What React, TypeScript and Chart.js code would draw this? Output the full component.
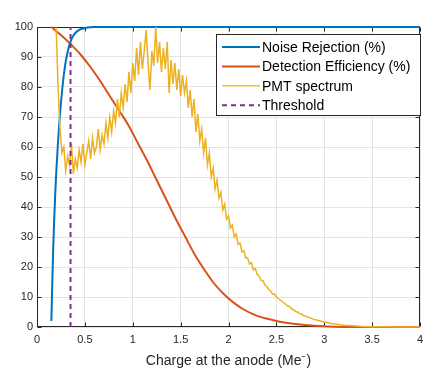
import React, { useEffect, useRef } from "react";
import { Chart, registerables } from "chart.js";
Chart.register(...registerables);

const xTickValues = [0, 0.5, 1, 1.5, 2, 2.5, 3, 3.5, 4];
const yTickValues = [0, 10, 20, 30, 40, 50, 60, 70, 80, 90, 100];
const seriesNames = ["Noise Rejection (%)", "Detection Efficiency (%)", "PMT spectrum", "Threshold"];
const xAxisTitle = "Charge at the anode (Me\u207B)";

const noiseCharge = [0.15, 0.16, 0.17, 0.18, 0.19, 0.2, 0.22, 0.24, 0.26, 0.28, 0.3, 0.33, 0.36, 0.4, 0.45, 0.5, 0.6, 1, 2, 3, 4];
const noiseRejection = [2, 15, 27, 36, 44, 51, 62, 71, 78, 84, 88.5, 93, 96, 98, 99.2, 99.7, 100, 100, 100, 100, 100];

const effCharge = [0.15, 0.25, 0.35, 0.45, 0.55, 0.65, 0.75, 0.85, 0.95, 1.05, 1.15, 1.25, 1.35, 1.45, 1.55, 1.65, 1.75, 1.85, 1.95, 2.05, 2.15, 2.25, 2.35, 2.45, 2.55, 2.7, 2.9, 3.1, 3.5, 4];
const detectionEfficiency = [100, 97.3, 94.3, 91, 87, 82.5, 77.5, 72.5, 67.5, 61.5, 55.5, 49, 42.5, 36, 30, 24, 19, 14.5, 11, 8.2, 6, 4.4, 3.2, 2.4, 1.7, 1.0, 0.4, 0.1, 0, 0];

const pmtCharge = [
  0.2, 0.22, 0.24, 0.26, 0.28, 0.3, 0.32, 0.34, 0.36, 0.38, 0.4, 0.42, 0.44, 0.46, 0.48,
  0.5, 0.52, 0.54, 0.56, 0.58, 0.6, 0.62, 0.64, 0.66, 0.68, 0.7, 0.72, 0.74, 0.76, 0.78,
  0.8, 0.82, 0.84, 0.86, 0.88, 0.9, 0.92, 0.94, 0.96, 0.98, 1.0, 1.02, 1.04, 1.06, 1.08,
  1.1, 1.12, 1.14, 1.16, 1.18, 1.2, 1.22, 1.24, 1.26, 1.28, 1.3, 1.32, 1.34, 1.36, 1.38,
  1.4, 1.42, 1.44, 1.46, 1.48, 1.5, 1.52, 1.54, 1.56, 1.58, 1.6, 1.62, 1.64, 1.66, 1.68,
  1.7, 1.72, 1.74, 1.76, 1.78, 1.8, 1.82, 1.84, 1.86, 1.88, 1.9, 1.92, 1.94, 1.96, 1.98,
  2.0, 2.02, 2.04, 2.06, 2.08, 2.1, 2.12, 2.14, 2.16, 2.18, 2.2, 2.22, 2.24, 2.26, 2.28,
  2.3, 2.32, 2.34, 2.36, 2.38, 2.4, 2.42, 2.44, 2.46, 2.48, 2.5, 2.52, 2.54, 2.56, 2.58,
  2.6, 2.62, 2.64, 2.66, 2.68, 2.7, 2.72, 2.74, 2.76, 2.78, 2.8, 2.84, 2.88, 2.92, 2.96,
  3.0, 3.05, 3.1, 3.15, 3.2, 3.3, 3.4, 3.5, 3.6, 3.8, 4.0,
];
const pmtCounts = [
  100, 80, 66, 58, 60, 52, 57, 54, 61, 51, 56, 53, 59, 55, 61,
  54, 58, 62, 56, 63, 58, 60, 66, 59, 64, 61, 68, 63, 70, 65,
  72, 68, 76, 70, 78, 73, 81, 75, 85, 78, 88, 82, 93, 84, 95,
  86, 92, 99, 88, 79, 92, 87, 100, 88, 95, 85, 93, 86, 95, 78,
  89, 81, 88, 79, 86, 77, 84, 78, 82, 73, 79, 70, 76, 65, 71,
  62, 66, 58, 63, 54, 58, 50, 53, 46, 49, 43, 45, 39, 41, 36,
  37, 33, 34, 30, 31, 27.5, 28, 25, 25.5, 23, 23, 21, 21.5, 19, 19.5,
  17.5, 17, 15.5, 15.5, 14, 13.5, 12.5, 12, 11, 11, 10, 9.5, 9, 8.5, 8,
  7.5, 7, 6.8, 6, 5.8, 5.2, 5, 4.5, 4.4, 3.8, 3.7, 3.2, 2.7, 2.3, 2,
  1.7, 1.3, 1.0, 0.8, 0.6, 0.4, 0.2, 0.1, 0.05, 0, 0,
];

const thresholdCharge = [0.35, 0.35];
const thresholdLevel = [0, 100];

const colors = ["#0072BD", "#D95319", "#EDB120", "#7E2F8E"];
const FONT = "'Liberation Sans', Arial, Helvetica, sans-serif";
const AXIS_COLOR = "#262626";

const pairs = (xs: number[], ys: number[]) => xs.map((x, i) => ({ x, y: ys[i] }));

const framePlugin = {
  id: "frameAndLegend",
  beforeDatasetsDraw(chart: any) {
    const { ctx, chartArea: a, scales } = chart;
    ctx.save();
    ctx.strokeStyle = AXIS_COLOR;
    ctx.lineWidth = 1;
    const l = Math.round(a.left) + 0.5, t = Math.round(a.top) + 0.5;
    const r = Math.round(a.right) - 0.5, b = Math.round(a.bottom) - 0.5;
    ctx.strokeRect(l, t, r - l, b - t);
    const tl = 4;
    ctx.beginPath();
    xTickValues.forEach((v) => {
      const px = Math.round(scales.x.getPixelForValue(v)) + 0.5;
      ctx.moveTo(px, b);
      ctx.lineTo(px, b - tl);
      ctx.moveTo(px, t);
      ctx.lineTo(px, t + tl);
    });
    yTickValues.forEach((v) => {
      const py = Math.round(scales.y.getPixelForValue(v)) + 0.5;
      ctx.moveTo(l, py);
      ctx.lineTo(l + tl, py);
      ctx.moveTo(r, py);
      ctx.lineTo(r - tl, py);
    });
    ctx.stroke();
    ctx.restore();
  },
  afterDraw(chart: any) {
    const { ctx } = chart;
    ctx.save();
    const bx = 216.5, by = 34.5, bw = 204, bh = 81;
    ctx.fillStyle = "#ffffff";
    ctx.fillRect(bx, by, bw, bh);
    ctx.strokeStyle = AXIS_COLOR;
    ctx.lineWidth = 1;
    ctx.strokeRect(bx, by, bw, bh);
    ctx.font = `14px ${FONT}`;
    ctx.textBaseline = "middle";
    ctx.textAlign = "left";
    seriesNames.forEach((name, i) => {
      const y = 47 + i * 19.4;
      ctx.beginPath();
      ctx.strokeStyle = colors[i];
      ctx.lineWidth = i === 2 ? 1.3 : 2;
      ctx.setLineDash(i === 3 ? [5, 4] : []);
      ctx.moveTo(222, y);
      ctx.lineTo(260, y);
      ctx.stroke();
      ctx.setLineDash([]);
      ctx.fillStyle = "#000000";
      ctx.fillText(name, 262, y + 1);
    });
    ctx.restore();
  },
};

export default function App() {
  const ref = useRef<HTMLCanvasElement | null>(null);
  useEffect(() => {
    document.body.style.margin = "0";
    const canvas = ref.current;
    if (!canvas) return;
    const chart = new Chart(canvas, {
      type: "line",
      data: {
        datasets: [
          {
            label: seriesNames[0],
            data: pairs(noiseCharge, noiseRejection),
            borderColor: colors[0],
            borderWidth: 2,
            pointRadius: 0,
            cubicInterpolationMode: "monotone",
            clip: 4,
            order: 3,
          },
          {
            label: seriesNames[1],
            data: pairs(effCharge, detectionEfficiency),
            borderColor: colors[1],
            borderWidth: 2,
            pointRadius: 0,
            cubicInterpolationMode: "monotone",
            clip: 4,
            order: 2,
          },
          {
            label: seriesNames[2],
            data: pairs(pmtCharge, pmtCounts),
            borderColor: colors[2],
            borderWidth: 1.5,
            pointRadius: 0,
            tension: 0,
            clip: 4,
            order: 1,
          },
          {
            label: seriesNames[3],
            data: pairs(thresholdCharge, thresholdLevel),
            borderColor: colors[3],
            borderWidth: 2,
            borderDash: [5, 4],
            pointRadius: 0,
            clip: 4,
            order: 0,
          },
        ],
      } as any,
      options: {
        animation: false,
        responsive: false,
        maintainAspectRatio: false,
        layout: { padding: { top: 27, right: 17, left: 0, bottom: 0 } },
        plugins: { legend: { display: false }, tooltip: { enabled: false } },
        scales: {
          x: {
            type: "linear",
            min: 0,
            max: 4,
            afterFit: (s: any) => {
              s.height = 43;
            },
            afterBuildTicks: (s: any) => {
              s.ticks = xTickValues.map((v) => ({ value: v }));
            },
            ticks: {
              color: AXIS_COLOR,
              font: { family: FONT, size: 11 },
              padding: 6,
              maxRotation: 0,
              callback: (v: any) => String(v),
            },
            grid: { color: "#e3e3e3", drawTicks: false },
            border: { display: false },
            title: {
              display: true,
              text: xAxisTitle,
              color: AXIS_COLOR,
              font: { family: FONT, size: 14 },
              padding: { top: 0, bottom: 0 },
            },
          },
          y: {
            type: "linear",
            min: 0,
            max: 100,
            afterFit: (s: any) => {
              s.width = 37;
            },
            afterBuildTicks: (s: any) => {
              s.ticks = yTickValues.map((v) => ({ value: v }));
            },
            ticks: {
              color: AXIS_COLOR,
              font: { family: FONT, size: 11 },
              padding: 4,
              callback: (v: any) => String(v),
            },
            grid: { color: "#e3e3e3", drawTicks: false },
            border: { display: false },
          },
        },
      } as any,
      plugins: [framePlugin],
    });
    return () => chart.destroy();
  }, []);
  return (
    <div style={{ position: "absolute", left: 0, top: 0, width: 437, height: 370, background: "#fff" }}>
      <canvas ref={ref} width={437} height={370} style={{ width: 437, height: 370, display: "block" }} />
    </div>
  );
}
